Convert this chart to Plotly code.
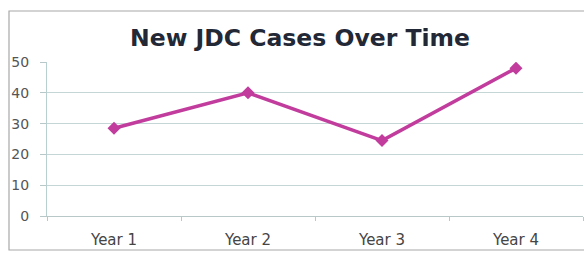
import plotly.graph_objects as go

categories = ["Year 1", "Year 2", "Year 3", "Year 4"]
cases = [28.5, 40, 24.5, 48]
y_ticks = [0, 10, 20, 30, 40, 50]

W, H = 584, 253
L, R, T, B = 47, 1, 62, 37
pw, ph = W - L - R, H - T - B

fig = go.Figure()
fig.add_trace(go.Scatter(
    x=categories, y=cases, mode="lines+markers",
    line=dict(color="#c13c9c", width=3.5),
    marker=dict(symbol="diamond", size=10, color="#c13c9c"),
    showlegend=False,
))

def px_x(v):
    return (v - L) / pw

def px_y(v):
    return (H - B - v) / ph

fig.add_shape(type="rect", xref="paper", yref="paper",
              x0=px_x(9), x1=px_x(600), y0=px_y(250), y1=px_y(11),
              line=dict(color="#a8a8a8", width=1.2), layer="below")

fig.update_layout(
    width=W, height=H,
    margin=dict(l=L, r=R, t=T, b=B),
    paper_bgcolor="white", plot_bgcolor="white",
    title=dict(text="<b>New JDC Cases Over Time</b>", x=300 / W, xanchor="center",
               y=1 - 38 / H, yanchor="middle",
               font=dict(family="DejaVu Sans", size=23.5, color="#232836")),
    xaxis=dict(type="category", range=[-0.5, 3.5], tickson="boundaries",
               ticks="outside", ticklen=4, tickcolor="#b8c8c8",
               showline=True, linecolor="#b8c8c8", linewidth=1,
               showgrid=False, ticklabelstandoff=10,
               tickfont=dict(family="DejaVu Sans", size=15, color="#454545")),
    yaxis=dict(range=[0, 50], tickvals=y_ticks, ticks="outside", ticklen=6,
               tickcolor="#b8c8c8", showline=True, linecolor="#b8d0d0",
               gridcolor="#c4d6d6", gridwidth=1, zeroline=False,
               ticklabelstandoff=8,
               tickfont=dict(family="DejaVu Sans", size=14, color="#555555")),
)

fig.write_html("out.html",
               config={"displayModeBar": False},
               post_script="document.body.style.margin='0';document.body.style.overflow='hidden';")
